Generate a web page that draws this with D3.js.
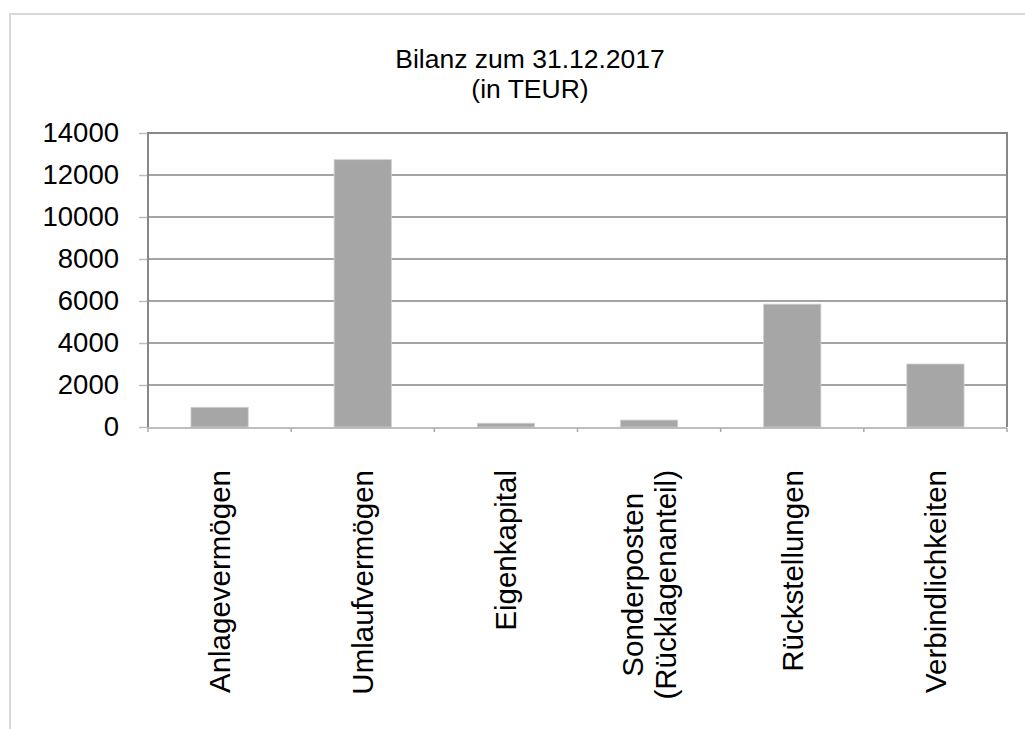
<!DOCTYPE html>
<html>
<head>
<meta charset="utf-8">
<script src="https://cdn.jsdelivr.net/npm/d3@7"></script>
<style>
  html, body { margin: 0; padding: 0; background: #fff; }
  svg { display: block; font-family: "Liberation Sans", Arial, sans-serif; }
</style>
</head>
<body>
<svg id="chart"></svg>
<script>
// ── DATA ─────────────────────────────────────────────────────
const titleLines = ['Bilanz zum 31.12.2017', '(in TEUR)'];
const categories = [
  ['Anlagevermögen'],
  ['Umlaufvermögen'],
  ['Eigenkapital'],
  ['Sonderposten', '(Rücklagenanteil)'],
  ['Rückstellungen'],
  ['Verbindlichkeiten']
];
const values = [940, 12730, 180, 330, 5850, 3000];
const yTicks = [0, 2000, 4000, 6000, 8000, 10000, 12000, 14000];

// ── CONFIG ───────────────────────────────────────────────────
const W = 1025, H = 729;
const PLOT = { left: 148, right: 1007, top: 133, bottom: 427 };
const BAR_COLOR = '#a6a6a6';
const FRAME_COLOR = '#878787';

const svg = d3.select('#chart').attr('width', W).attr('height', H);

// outer chart-area border (only top + left visible in the crop)
svg.append('path')
  .attr('d', `M10,${H} V14 H${W}`)
  .attr('fill', 'none')
  .attr('stroke', '#d9d9d9')
  .attr('stroke-width', 2);

// title
svg.append('text')
  .attr('x', 530)
  .attr('y', 68)
  .attr('text-anchor', 'middle')
  .attr('font-size', 26.5)
  .selectAll('tspan')
  .data(titleLines)
  .join('tspan')
  .attr('x', 530)
  .attr('dy', (d, i) => i === 0 ? 0 : 30)
  .text(d => d);

// scales
const x = d3.scaleBand()
  .domain(categories.map((d, i) => i))
  .range([PLOT.left, PLOT.right])
  .paddingInner(0.6)
  .paddingOuter(0.3);

const y = d3.scaleLinear()
  .domain([0, 14000])
  .range([PLOT.bottom, PLOT.top]);

// gridlines
svg.append('g')
  .selectAll('line')
  .data(yTicks.filter(t => t > 0 && t < 14000))
  .join('line')
  .attr('x1', PLOT.left).attr('x2', PLOT.right)
  .attr('y1', d => y(d)).attr('y2', d => y(d))
  .attr('stroke', '#858585')
  .attr('stroke-width', 1.4);

// y axis
const yAxis = svg.append('g')
  .attr('transform', `translate(${PLOT.left},0)`)
  .call(d3.axisLeft(y).tickValues(yTicks).tickSize(9).tickPadding(20).tickFormat(d3.format('d')));
yAxis.select('.domain').remove();
yAxis.selectAll('.tick line').attr('stroke', '#bdbdbd').attr('stroke-width', 1.5);
yAxis.selectAll('.tick text')
  .attr('font-size', 27.5)
  .attr('font-family', '"Liberation Sans", Arial, sans-serif')
  .attr('fill', '#000');

// bars
svg.append('g')
  .selectAll('rect')
  .data(values)
  .join('rect')
  .attr('x', (d, i) => x(i))
  .attr('width', x.bandwidth())
  .attr('y', d => y(d))
  .attr('height', d => y(0) - y(d))
  .attr('fill', BAR_COLOR)
  .attr('stroke', '#d0d0d0')
  .attr('stroke-width', 0.8);

// plot frame: top, right, left
svg.append('path')
  .attr('d', `M${PLOT.left},${PLOT.bottom} V${PLOT.top} H${PLOT.right} V${PLOT.bottom}`)
  .attr('fill', 'none')
  .attr('stroke', FRAME_COLOR)
  .attr('stroke-width', 2);

// bottom category axis with ticks between categories
const step = x.step();
const bAxis = svg.append('g').attr('stroke', '#a8a8a8').attr('stroke-width', 1.5);
bAxis.append('line')
  .attr('x1', PLOT.left).attr('x2', PLOT.right)
  .attr('y1', PLOT.bottom + 1).attr('y2', PLOT.bottom + 1);
bAxis.selectAll('line.tk')
  .data(d3.range(categories.length + 1))
  .join('line')
  .attr('class', 'tk')
  .attr('x1', i => PLOT.left + i * step).attr('x2', i => PLOT.left + i * step)
  .attr('y1', PLOT.bottom + 1).attr('y2', PLOT.bottom + 5);

// category labels, rotated, block anchored at the top
const LABEL_TOP = 470;
const LINE_GAP = 33;
const labels = svg.append('g')
  .attr('font-size', 29.5)
  .selectAll('g')
  .data(categories)
  .join('g');

labels.each(function(lines, i) {
  const g = d3.select(this);
  const cx = x(i) + x.bandwidth() / 2;
  const n = lines.length;
  const texts = lines.map((line, j) => g.append('text')
    .attr('text-anchor', 'middle')
    .attr('dy', '0.35em')
    .text(line)
    .datum({ j, off: (j - (n - 1) / 2) * LINE_GAP }));
  const maxW = d3.max(texts, t => t.node().getComputedTextLength());
  const cy = LABEL_TOP + maxW / 2;
  texts.forEach(t => {
    const { off } = t.datum();
    t.attr('transform', `translate(${cx + off},${cy}) rotate(-90)`);
  });
});
</script>
</body>
</html>
